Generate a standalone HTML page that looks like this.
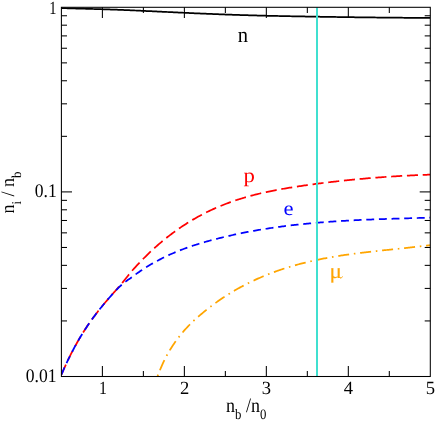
<!DOCTYPE html>
<html><head><meta charset="utf-8"><title>Particle fractions</title>
<style>
html,body{margin:0;padding:0;background:#fff;}
body{width:436px;height:421px;overflow:hidden;position:relative;font-family:"Liberation Serif",serif;}
</style></head>
<body>
<svg width="436" height="421" viewBox="0 0 436 421" style="position:absolute;left:0;top:0">
<defs><clipPath id="c"><rect x="61.4" y="7.3" width="368.90000000000003" height="369.2"/></clipPath></defs>
<g clip-path="url(#c)" fill="none">
<path d="M61.40,8.12 L62.63,8.15 L63.87,8.19 L65.10,8.22 L66.34,8.25 L67.57,8.28 L68.80,8.31 L70.04,8.34 L71.27,8.38 L72.50,8.41 L73.74,8.44 L74.97,8.47 L76.21,8.51 L77.44,8.54 L78.67,8.58 L79.91,8.61 L81.14,8.64 L82.37,8.68 L83.61,8.71 L84.84,8.75 L86.08,8.78 L87.31,8.82 L88.54,8.85 L89.78,8.89 L91.01,8.92 L92.24,8.96 L93.48,9.00 L94.71,9.03 L95.95,9.07 L97.18,9.10 L98.41,9.14 L99.65,9.18 L100.88,9.21 L102.11,9.25 L103.35,9.29 L104.58,9.32 L105.82,9.36 L107.05,9.40 L108.28,9.44 L109.52,9.48 L110.75,9.52 L111.98,9.56 L113.22,9.60 L114.45,9.64 L115.69,9.68 L116.92,9.72 L118.15,9.77 L119.39,9.81 L120.62,9.86 L121.86,9.91 L123.09,9.95 L124.32,10.01 L125.56,10.06 L126.79,10.11 L128.02,10.17 L129.26,10.23 L130.49,10.29 L131.73,10.34 L132.96,10.39 L134.19,10.45 L135.43,10.50 L136.66,10.56 L137.89,10.61 L139.13,10.67 L140.36,10.73 L141.60,10.78 L142.83,10.84 L144.06,10.90 L145.30,10.95 L146.53,11.01 L147.76,11.07 L149.00,11.12 L150.23,11.18 L151.47,11.24 L152.70,11.30 L153.93,11.36 L155.17,11.41 L156.40,11.47 L157.63,11.53 L158.87,11.59 L160.10,11.65 L161.34,11.71 L162.57,11.77 L163.80,11.82 L165.04,11.88 L166.27,11.94 L167.51,12.00 L168.74,12.06 L169.97,12.12 L171.21,12.18 L172.44,12.23 L173.67,12.29 L174.91,12.35 L176.14,12.41 L177.38,12.47 L178.61,12.52 L179.84,12.58 L181.08,12.64 L182.31,12.70 L183.54,12.75 L184.78,12.81 L186.01,12.87 L187.25,12.92 L188.48,12.98 L189.71,13.04 L190.95,13.09 L192.18,13.15 L193.41,13.20 L194.65,13.26 L195.88,13.31 L197.12,13.37 L198.35,13.42 L199.58,13.47 L200.82,13.53 L202.05,13.58 L203.28,13.63 L204.52,13.69 L205.75,13.74 L206.99,13.79 L208.22,13.84 L209.45,13.89 L210.69,13.94 L211.92,13.99 L213.15,14.04 L214.39,14.09 L215.62,14.14 L216.86,14.19 L218.09,14.23 L219.32,14.28 L220.56,14.33 L221.79,14.37 L223.03,14.42 L224.26,14.46 L225.49,14.51 L226.73,14.55 L227.96,14.60 L229.19,14.64 L230.43,14.68 L231.66,14.73 L232.90,14.77 L234.13,14.81 L235.36,14.85 L236.60,14.89 L237.83,14.93 L239.06,14.97 L240.30,15.01 L241.53,15.05 L242.77,15.09 L244.00,15.13 L245.23,15.16 L246.47,15.20 L247.70,15.24 L248.93,15.27 L250.17,15.31 L251.40,15.34 L252.64,15.38 L253.87,15.41 L255.10,15.44 L256.34,15.48 L257.57,15.51 L258.80,15.54 L260.04,15.57 L261.27,15.60 L262.51,15.64 L263.74,15.67 L264.97,15.70 L266.21,15.73 L267.44,15.76 L268.67,15.78 L269.91,15.81 L271.14,15.84 L272.38,15.87 L273.61,15.90 L274.84,15.92 L276.08,15.95 L277.31,15.98 L278.55,16.00 L279.78,16.03 L281.01,16.05 L282.25,16.08 L283.48,16.10 L284.71,16.13 L285.95,16.15 L287.18,16.18 L288.42,16.20 L289.65,16.22 L290.88,16.25 L292.12,16.27 L293.35,16.29 L294.58,16.32 L295.82,16.34 L297.05,16.36 L298.29,16.38 L299.52,16.41 L300.75,16.43 L301.99,16.45 L303.22,16.47 L304.45,16.49 L305.69,16.51 L306.92,16.54 L308.16,16.56 L309.39,16.58 L310.62,16.60 L311.86,16.62 L313.09,16.64 L314.32,16.66 L315.56,16.68 L316.79,16.70 L318.03,16.72 L319.26,16.74 L320.49,16.76 L321.73,16.78 L322.96,16.80 L324.19,16.82 L325.43,16.84 L326.66,16.86 L327.90,16.88 L329.13,16.89 L330.36,16.91 L331.60,16.93 L332.83,16.95 L334.07,16.97 L335.30,16.99 L336.53,17.00 L337.77,17.02 L339.00,17.04 L340.23,17.06 L341.47,17.08 L342.70,17.09 L343.94,17.11 L345.17,17.13 L346.40,17.14 L347.64,17.16 L348.87,17.18 L350.10,17.19 L351.34,17.21 L352.57,17.23 L353.81,17.24 L355.04,17.26 L356.27,17.27 L357.51,17.29 L358.74,17.30 L359.97,17.32 L361.21,17.33 L362.44,17.35 L363.68,17.36 L364.91,17.38 L366.14,17.39 L367.38,17.41 L368.61,17.42 L369.84,17.43 L371.08,17.45 L372.31,17.46 L373.55,17.47 L374.78,17.49 L376.01,17.50 L377.25,17.51 L378.48,17.53 L379.72,17.54 L380.95,17.55 L382.18,17.56 L383.42,17.58 L384.65,17.59 L385.88,17.60 L387.12,17.61 L388.35,17.62 L389.59,17.63 L390.82,17.65 L392.05,17.66 L393.29,17.67 L394.52,17.68 L395.75,17.69 L396.99,17.70 L398.22,17.71 L399.46,17.72 L400.69,17.73 L401.92,17.74 L403.16,17.75 L404.39,17.76 L405.62,17.77 L406.86,17.78 L408.09,17.78 L409.33,17.79 L410.56,17.80 L411.79,17.81 L413.03,17.82 L414.26,17.83 L415.49,17.83 L416.73,17.84 L417.96,17.85 L419.20,17.86 L420.43,17.86 L421.66,17.87 L422.90,17.88 L424.13,17.89 L425.36,17.89 L426.60,17.90 L427.83,17.90 L429.07,17.91 L430.30,17.92" stroke="#000" stroke-width="1.75"/>
<path d="M61.40,374.67 L62.63,371.80 L63.87,369.01 L65.10,366.27 L66.34,363.59 L67.57,360.98 L68.80,358.42 L70.04,355.92 L71.27,353.48 L72.50,351.08 L73.74,348.75 L74.97,346.46 L76.21,344.22 L77.44,342.03 L78.67,339.89 L79.91,337.79 L81.14,335.74 L82.37,333.73 L83.61,331.76 L84.84,329.83 L86.08,327.94 L87.31,326.08 L88.54,324.26 L89.78,322.48 L91.01,320.73 L92.24,319.01 L93.48,317.32 L94.71,315.66 L95.95,314.02 L97.18,312.41 L98.41,310.83 L99.65,309.27 L100.88,307.73 L102.11,306.21 L103.35,304.72 L104.58,303.23 L105.82,301.77 L107.05,300.32 L108.28,298.88 L109.52,297.46 L110.75,296.05 L111.98,294.65 L113.22,293.27 L114.45,291.89 L115.69,290.50 L116.92,289.09 L118.15,287.67 L119.39,286.24 L120.62,284.79 L121.86,283.32 L123.09,281.83 L124.32,280.32 L125.56,278.79 L126.79,277.24 L128.02,275.67 L129.26,274.07 L130.49,272.54 L131.73,271.15 L132.96,269.76 L134.19,268.39 L135.43,267.04 L136.66,265.70 L137.89,264.38 L139.13,263.07 L140.36,261.77 L141.60,260.50 L142.83,259.24 L144.06,257.99 L145.30,256.76 L146.53,255.54 L147.76,254.34 L149.00,253.15 L150.23,251.98 L151.47,250.82 L152.70,249.68 L153.93,248.55 L155.17,247.43 L156.40,246.33 L157.63,245.25 L158.87,244.17 L160.10,243.12 L161.34,242.07 L162.57,241.04 L163.80,240.02 L165.04,239.02 L166.27,238.03 L167.51,237.05 L168.74,236.08 L169.97,235.13 L171.21,234.19 L172.44,233.27 L173.67,232.35 L174.91,231.45 L176.14,230.56 L177.38,229.69 L178.61,228.82 L179.84,227.97 L181.08,227.13 L182.31,226.30 L183.54,225.48 L184.78,224.68 L186.01,223.89 L187.25,223.11 L188.48,222.34 L189.71,221.58 L190.95,220.83 L192.18,220.09 L193.41,219.37 L194.65,218.65 L195.88,217.95 L197.12,217.25 L198.35,216.57 L199.58,215.90 L200.82,215.24 L202.05,214.58 L203.28,213.94 L204.52,213.31 L205.75,212.69 L206.99,212.07 L208.22,211.47 L209.45,210.88 L210.69,210.29 L211.92,209.72 L213.15,209.16 L214.39,208.60 L215.62,208.05 L216.86,207.51 L218.09,206.99 L219.32,206.47 L220.56,205.95 L221.79,205.45 L223.03,204.95 L224.26,204.47 L225.49,203.99 L226.73,203.52 L227.96,203.06 L229.19,202.60 L230.43,202.16 L231.66,201.72 L232.90,201.28 L234.13,200.86 L235.36,200.44 L236.60,200.03 L237.83,199.63 L239.06,199.24 L240.30,198.85 L241.53,198.46 L242.77,198.09 L244.00,197.72 L245.23,197.36 L246.47,197.00 L247.70,196.65 L248.93,196.31 L250.17,195.97 L251.40,195.64 L252.64,195.32 L253.87,195.00 L255.10,194.68 L256.34,194.37 L257.57,194.07 L258.80,193.77 L260.04,193.48 L261.27,193.19 L262.51,192.91 L263.74,192.63 L264.97,192.36 L266.21,192.09 L267.44,191.82 L268.67,191.56 L269.91,191.31 L271.14,191.06 L272.38,190.81 L273.61,190.57 L274.84,190.33 L276.08,190.09 L277.31,189.86 L278.55,189.63 L279.78,189.41 L281.01,189.19 L282.25,188.97 L283.48,188.76 L284.71,188.54 L285.95,188.34 L287.18,188.13 L288.42,187.93 L289.65,187.73 L290.88,187.53 L292.12,187.33 L293.35,187.14 L294.58,186.95 L295.82,186.76 L297.05,186.57 L298.29,186.39 L299.52,186.20 L300.75,186.02 L301.99,185.84 L303.22,185.66 L304.45,185.48 L305.69,185.31 L306.92,185.13 L308.16,184.96 L309.39,184.79 L310.62,184.62 L311.86,184.45 L313.09,184.29 L314.32,184.12 L315.56,183.96 L316.79,183.79 L318.03,183.63 L319.26,183.47 L320.49,183.31 L321.73,183.16 L322.96,183.00 L324.19,182.85 L325.43,182.70 L326.66,182.54 L327.90,182.39 L329.13,182.25 L330.36,182.10 L331.60,181.95 L332.83,181.81 L334.07,181.67 L335.30,181.53 L336.53,181.39 L337.77,181.25 L339.00,181.11 L340.23,180.98 L341.47,180.84 L342.70,180.71 L343.94,180.58 L345.17,180.45 L346.40,180.32 L347.64,180.19 L348.87,180.07 L350.10,179.94 L351.34,179.82 L352.57,179.70 L353.81,179.57 L355.04,179.46 L356.27,179.34 L357.51,179.22 L358.74,179.11 L359.97,178.99 L361.21,178.88 L362.44,178.77 L363.68,178.66 L364.91,178.55 L366.14,178.44 L367.38,178.34 L368.61,178.23 L369.84,178.13 L371.08,178.03 L372.31,177.93 L373.55,177.83 L374.78,177.73 L376.01,177.64 L377.25,177.54 L378.48,177.45 L379.72,177.35 L380.95,177.26 L382.18,177.17 L383.42,177.08 L384.65,177.00 L385.88,176.91 L387.12,176.82 L388.35,176.74 L389.59,176.66 L390.82,176.58 L392.05,176.50 L393.29,176.42 L394.52,176.34 L395.75,176.27 L396.99,176.19 L398.22,176.12 L399.46,176.05 L400.69,175.97 L401.92,175.90 L403.16,175.84 L404.39,175.77 L405.62,175.70 L406.86,175.64 L408.09,175.57 L409.33,175.51 L410.56,175.45 L411.79,175.39 L413.03,175.33 L414.26,175.27 L415.49,175.22 L416.73,175.16 L417.96,175.11 L419.20,175.06 L420.43,175.00 L421.66,174.95 L422.90,174.90 L424.13,174.86 L425.36,174.81 L426.60,174.76 L427.83,174.72 L429.07,174.68 L430.30,174.63" stroke="#ff0000" stroke-width="1.75" stroke-dasharray="11.06 4.74"/>
<path d="M61.40,374.67 L62.63,371.80 L63.87,369.01 L65.10,366.27 L66.34,363.59 L67.57,360.98 L68.80,358.42 L70.04,355.92 L71.27,353.48 L72.50,351.08 L73.74,348.75 L74.97,346.46 L76.21,344.22 L77.44,342.03 L78.67,339.89 L79.91,337.79 L81.14,335.74 L82.37,333.73 L83.61,331.76 L84.84,329.83 L86.08,327.94 L87.31,326.08 L88.54,324.26 L89.78,322.48 L91.01,320.73 L92.24,319.01 L93.48,317.32 L94.71,315.66 L95.95,314.02 L97.18,312.41 L98.41,310.83 L99.65,309.27 L100.88,307.73 L102.11,306.21 L103.35,304.72 L104.58,303.23 L105.82,301.77 L107.05,300.32 L108.28,298.88 L109.52,297.46 L110.75,296.05 L111.98,294.65 L113.22,293.27 L114.45,291.91 L115.69,290.59 L116.92,289.32 L118.15,288.08 L119.39,286.89 L120.62,285.74 L121.86,284.64 L123.09,283.58 L124.32,282.57 L125.56,281.62 L126.79,280.71 L128.02,279.85 L129.26,279.05 L130.49,278.21 L131.73,277.26 L132.96,276.34 L134.19,275.42 L135.43,274.52 L136.66,273.64 L137.89,272.77 L139.13,271.92 L140.36,271.08 L141.60,270.25 L142.83,269.43 L144.06,268.63 L145.30,267.84 L146.53,267.07 L147.76,266.31 L149.00,265.56 L150.23,264.82 L151.47,264.09 L152.70,263.38 L153.93,262.68 L155.17,261.99 L156.40,261.31 L157.63,260.65 L158.87,259.99 L160.10,259.35 L161.34,258.71 L162.57,258.09 L163.80,257.48 L165.04,256.88 L166.27,256.29 L167.51,255.71 L168.74,255.14 L169.97,254.57 L171.21,254.02 L172.44,253.48 L173.67,252.95 L174.91,252.42 L176.14,251.91 L177.38,251.40 L178.61,250.90 L179.84,250.41 L181.08,249.93 L182.31,249.46 L183.54,248.99 L184.78,248.54 L186.01,248.09 L187.25,247.64 L188.48,247.21 L189.71,246.78 L190.95,246.36 L192.18,245.94 L193.41,245.53 L194.65,245.13 L195.88,244.74 L197.12,244.35 L198.35,243.96 L199.58,243.58 L200.82,243.21 L202.05,242.84 L203.28,242.48 L204.52,242.13 L205.75,241.77 L206.99,241.43 L208.22,241.08 L209.45,240.74 L210.69,240.41 L211.92,240.08 L213.15,239.75 L214.39,239.43 L215.62,239.11 L216.86,238.79 L218.09,238.48 L219.32,238.17 L220.56,237.87 L221.79,237.56 L223.03,237.26 L224.26,236.97 L225.49,236.68 L226.73,236.39 L227.96,236.10 L229.19,235.82 L230.43,235.54 L231.66,235.26 L232.90,234.99 L234.13,234.72 L235.36,234.46 L236.60,234.19 L237.83,233.93 L239.06,233.67 L240.30,233.42 L241.53,233.17 L242.77,232.92 L244.00,232.68 L245.23,232.43 L246.47,232.19 L247.70,231.96 L248.93,231.72 L250.17,231.49 L251.40,231.27 L252.64,231.04 L253.87,230.82 L255.10,230.60 L256.34,230.39 L257.57,230.17 L258.80,229.96 L260.04,229.75 L261.27,229.55 L262.51,229.35 L263.74,229.15 L264.97,228.95 L266.21,228.75 L267.44,228.56 L268.67,228.37 L269.91,228.18 L271.14,228.00 L272.38,227.82 L273.61,227.64 L274.84,227.46 L276.08,227.29 L277.31,227.11 L278.55,226.95 L279.78,226.78 L281.01,226.61 L282.25,226.45 L283.48,226.29 L284.71,226.13 L285.95,225.98 L287.18,225.82 L288.42,225.67 L289.65,225.52 L290.88,225.38 L292.12,225.23 L293.35,225.09 L294.58,224.95 L295.82,224.81 L297.05,224.67 L298.29,224.54 L299.52,224.41 L300.75,224.28 L301.99,224.15 L303.22,224.02 L304.45,223.90 L305.69,223.78 L306.92,223.66 L308.16,223.54 L309.39,223.42 L310.62,223.31 L311.86,223.19 L313.09,223.08 L314.32,222.97 L315.56,222.87 L316.79,222.76 L318.03,222.66 L319.26,222.55 L320.49,222.45 L321.73,222.36 L322.96,222.26 L324.19,222.16 L325.43,222.07 L326.66,221.98 L327.90,221.88 L329.13,221.79 L330.36,221.71 L331.60,221.62 L332.83,221.54 L334.07,221.45 L335.30,221.37 L336.53,221.29 L337.77,221.21 L339.00,221.13 L340.23,221.06 L341.47,220.98 L342.70,220.91 L343.94,220.83 L345.17,220.76 L346.40,220.69 L347.64,220.62 L348.87,220.55 L350.10,220.49 L351.34,220.42 L352.57,220.36 L353.81,220.29 L355.04,220.23 L356.27,220.17 L357.51,220.11 L358.74,220.05 L359.97,219.99 L361.21,219.94 L362.44,219.88 L363.68,219.83 L364.91,219.77 L366.14,219.72 L367.38,219.67 L368.61,219.61 L369.84,219.56 L371.08,219.51 L372.31,219.46 L373.55,219.41 L374.78,219.37 L376.01,219.32 L377.25,219.27 L378.48,219.23 L379.72,219.18 L380.95,219.14 L382.18,219.10 L383.42,219.05 L384.65,219.01 L385.88,218.97 L387.12,218.93 L388.35,218.88 L389.59,218.84 L390.82,218.80 L392.05,218.76 L393.29,218.73 L394.52,218.69 L395.75,218.65 L396.99,218.61 L398.22,218.57 L399.46,218.54 L400.69,218.50 L401.92,218.46 L403.16,218.42 L404.39,218.39 L405.62,218.35 L406.86,218.32 L408.09,218.28 L409.33,218.25 L410.56,218.21 L411.79,218.17 L413.03,218.14 L414.26,218.10 L415.49,218.07 L416.73,218.03 L417.96,218.00 L419.20,217.96 L420.43,217.93 L421.66,217.89 L422.90,217.86 L424.13,217.82 L425.36,217.79 L426.60,217.75 L427.83,217.71 L429.07,217.68 L430.30,217.64" stroke="#0000ff" stroke-width="1.75" stroke-dasharray="7.90 4.74"/>
<path d="M157.60,376.12 L158.70,373.25 L159.79,370.51 L160.89,367.88 L161.98,365.36 L163.08,362.95 L164.17,360.65 L165.27,358.44 L166.36,356.33 L167.46,354.30 L168.55,352.35 L169.65,350.48 L170.74,348.68 L171.84,346.94 L172.93,345.27 L174.03,343.65 L175.12,342.08 L176.22,340.55 L177.31,339.07 L178.41,337.62 L179.50,336.21 L180.60,334.84 L181.69,333.50 L182.79,332.20 L183.88,330.93 L184.98,329.68 L186.07,328.47 L187.17,327.29 L188.27,326.14 L189.36,325.01 L190.46,323.90 L191.55,322.82 L192.65,321.76 L193.74,320.73 L194.84,319.71 L195.93,318.71 L197.03,317.73 L198.12,316.77 L199.22,315.82 L200.31,314.88 L201.41,313.96 L202.50,313.05 L203.60,312.15 L204.69,311.25 L205.79,310.37 L206.88,309.50 L207.98,308.64 L209.07,307.79 L210.17,306.95 L211.26,306.12 L212.36,305.29 L213.45,304.48 L214.55,303.68 L215.64,302.88 L216.74,302.10 L217.83,301.32 L218.93,300.56 L220.03,299.80 L221.12,299.05 L222.22,298.31 L223.31,297.58 L224.41,296.86 L225.50,296.15 L226.60,295.45 L227.69,294.75 L228.79,294.06 L229.88,293.39 L230.98,292.71 L232.07,292.05 L233.17,291.40 L234.26,290.75 L235.36,290.11 L236.45,289.48 L237.55,288.86 L238.64,288.25 L239.74,287.64 L240.83,287.04 L241.93,286.45 L243.02,285.87 L244.12,285.29 L245.21,284.72 L246.31,284.16 L247.40,283.60 L248.50,283.05 L249.60,282.51 L250.69,281.98 L251.79,281.45 L252.88,280.93 L253.98,280.42 L255.07,279.91 L256.17,279.41 L257.26,278.91 L258.36,278.42 L259.45,277.94 L260.55,277.47 L261.64,277.00 L262.74,276.53 L263.83,276.07 L264.93,275.62 L266.02,275.18 L267.12,274.74 L268.21,274.30 L269.31,273.87 L270.40,273.45 L271.50,273.03 L272.59,272.62 L273.69,272.21 L274.78,271.81 L275.88,271.41 L276.97,271.02 L278.07,270.63 L279.17,270.25 L280.26,269.88 L281.36,269.51 L282.45,269.14 L283.55,268.78 L284.64,268.43 L285.74,268.07 L286.83,267.73 L287.93,267.39 L289.02,267.05 L290.12,266.72 L291.21,266.39 L292.31,266.07 L293.40,265.75 L294.50,265.44 L295.59,265.13 L296.69,264.82 L297.78,264.52 L298.88,264.23 L299.97,263.93 L301.07,263.65 L302.16,263.36 L303.26,263.08 L304.35,262.81 L305.45,262.54 L306.54,262.27 L307.64,262.00 L308.73,261.74 L309.83,261.49 L310.93,261.24 L312.02,260.99 L313.12,260.74 L314.21,260.50 L315.31,260.26 L316.40,260.03 L317.50,259.80 L318.59,259.57 L319.69,259.34 L320.78,259.12 L321.88,258.91 L322.97,258.69 L324.07,258.48 L325.16,258.27 L326.26,258.07 L327.35,257.86 L328.45,257.66 L329.54,257.47 L330.64,257.27 L331.73,257.08 L332.83,256.89 L333.92,256.71 L335.02,256.53 L336.11,256.35 L337.21,256.17 L338.30,255.99 L339.40,255.82 L340.50,255.65 L341.59,255.48 L342.69,255.32 L343.78,255.15 L344.88,254.99 L345.97,254.83 L347.07,254.67 L348.16,254.52 L349.26,254.37 L350.35,254.22 L351.45,254.07 L352.54,253.92 L353.64,253.77 L354.73,253.63 L355.83,253.49 L356.92,253.35 L358.02,253.21 L359.11,253.07 L360.21,252.94 L361.30,252.80 L362.40,252.67 L363.49,252.54 L364.59,252.41 L365.68,252.28 L366.78,252.15 L367.87,252.02 L368.97,251.90 L370.07,251.77 L371.16,251.65 L372.26,251.53 L373.35,251.41 L374.45,251.29 L375.54,251.17 L376.64,251.05 L377.73,250.93 L378.83,250.81 L379.92,250.69 L381.02,250.58 L382.11,250.46 L383.21,250.35 L384.30,250.23 L385.40,250.12 L386.49,250.00 L387.59,249.89 L388.68,249.77 L389.78,249.66 L390.87,249.55 L391.97,249.43 L393.06,249.32 L394.16,249.20 L395.25,249.09 L396.35,248.98 L397.44,248.86 L398.54,248.75 L399.63,248.63 L400.73,248.52 L401.83,248.40 L402.92,248.29 L404.02,248.17 L405.11,248.06 L406.21,247.94 L407.30,247.82 L408.40,247.70 L409.49,247.58 L410.59,247.46 L411.68,247.34 L412.78,247.22 L413.87,247.10 L414.97,246.97 L416.06,246.85 L417.16,246.72 L418.25,246.60 L419.35,246.47 L420.44,246.34 L421.54,246.21 L422.63,246.08 L423.73,245.95 L424.82,245.81 L425.92,245.67 L427.01,245.54 L428.11,245.40 L429.20,245.26 L430.30,245.12" stroke="#ffa500" stroke-width="1.75" stroke-dasharray="1.58 4.74 11.06 4.74"/>
<line x1="317.0" y1="7.3" x2="317.0" y2="376.5" stroke="#40e0d0" stroke-width="2.0"/>
</g>
<g stroke="#000" stroke-width="1.05" fill="none">
<rect x="61.4" y="7.3" width="368.90000000000003" height="369.2"/>
<line x1="102.39" y1="376.5" x2="102.39" y2="365.9"/>
<line x1="102.39" y1="7.3" x2="102.39" y2="17.9"/>
<line x1="143.38" y1="376.5" x2="143.38" y2="370.9"/>
<line x1="143.38" y1="7.3" x2="143.38" y2="12.899999999999999"/>
<line x1="184.37" y1="376.5" x2="184.37" y2="365.9"/>
<line x1="184.37" y1="7.3" x2="184.37" y2="17.9"/>
<line x1="225.36" y1="376.5" x2="225.36" y2="370.9"/>
<line x1="225.36" y1="7.3" x2="225.36" y2="12.899999999999999"/>
<line x1="266.34" y1="376.5" x2="266.34" y2="365.9"/>
<line x1="266.34" y1="7.3" x2="266.34" y2="17.9"/>
<line x1="307.33" y1="376.5" x2="307.33" y2="370.9"/>
<line x1="307.33" y1="7.3" x2="307.33" y2="12.899999999999999"/>
<line x1="348.32" y1="376.5" x2="348.32" y2="365.9"/>
<line x1="348.32" y1="7.3" x2="348.32" y2="17.9"/>
<line x1="389.31" y1="376.5" x2="389.31" y2="370.9"/>
<line x1="389.31" y1="7.3" x2="389.31" y2="12.899999999999999"/>
<line x1="61.4" y1="191.90" x2="72.0" y2="191.90"/>
<line x1="430.3" y1="191.90" x2="419.7" y2="191.90"/>
<line x1="61.4" y1="136.33" x2="67.0" y2="136.33"/>
<line x1="430.3" y1="136.33" x2="424.7" y2="136.33"/>
<line x1="61.4" y1="103.82" x2="67.0" y2="103.82"/>
<line x1="430.3" y1="103.82" x2="424.7" y2="103.82"/>
<line x1="61.4" y1="80.76" x2="67.0" y2="80.76"/>
<line x1="430.3" y1="80.76" x2="424.7" y2="80.76"/>
<line x1="61.4" y1="62.87" x2="67.0" y2="62.87"/>
<line x1="430.3" y1="62.87" x2="424.7" y2="62.87"/>
<line x1="61.4" y1="48.25" x2="67.0" y2="48.25"/>
<line x1="430.3" y1="48.25" x2="424.7" y2="48.25"/>
<line x1="61.4" y1="35.89" x2="67.0" y2="35.89"/>
<line x1="430.3" y1="35.89" x2="424.7" y2="35.89"/>
<line x1="61.4" y1="25.19" x2="67.0" y2="25.19"/>
<line x1="430.3" y1="25.19" x2="424.7" y2="25.19"/>
<line x1="61.4" y1="15.75" x2="67.0" y2="15.75"/>
<line x1="430.3" y1="15.75" x2="424.7" y2="15.75"/>
<line x1="61.4" y1="320.93" x2="67.0" y2="320.93"/>
<line x1="430.3" y1="320.93" x2="424.7" y2="320.93"/>
<line x1="61.4" y1="288.42" x2="67.0" y2="288.42"/>
<line x1="430.3" y1="288.42" x2="424.7" y2="288.42"/>
<line x1="61.4" y1="265.36" x2="67.0" y2="265.36"/>
<line x1="430.3" y1="265.36" x2="424.7" y2="265.36"/>
<line x1="61.4" y1="247.47" x2="67.0" y2="247.47"/>
<line x1="430.3" y1="247.47" x2="424.7" y2="247.47"/>
<line x1="61.4" y1="232.85" x2="67.0" y2="232.85"/>
<line x1="430.3" y1="232.85" x2="424.7" y2="232.85"/>
<line x1="61.4" y1="220.49" x2="67.0" y2="220.49"/>
<line x1="430.3" y1="220.49" x2="424.7" y2="220.49"/>
<line x1="61.4" y1="209.79" x2="67.0" y2="209.79"/>
<line x1="430.3" y1="209.79" x2="424.7" y2="209.79"/>
<line x1="61.4" y1="200.35" x2="67.0" y2="200.35"/>
<line x1="430.3" y1="200.35" x2="424.7" y2="200.35"/>
</g>
<g font-family="'Liberation Serif', serif" style="text-rendering:geometricPrecision" opacity="0.999">
<text transform="translate(102.9,393.8) scale(0.85,1.0)" font-size="18.6" text-anchor="middle" fill="#000">1</text>
<text transform="translate(184.6,393.8) scale(1,1.0)" font-size="18.6" text-anchor="middle" fill="#000">2</text>
<text transform="translate(266.5,393.8) scale(1,1.0)" font-size="18.6" text-anchor="middle" fill="#000">3</text>
<text transform="translate(348.5,393.8) scale(1,1.0)" font-size="18.6" text-anchor="middle" fill="#000">4</text>
<text transform="translate(430.5,393.8) scale(1,1.0)" font-size="18.6" text-anchor="middle" fill="#000">5</text>
<text transform="translate(56.4,13.6) scale(0.82,1.06)" font-size="17.6" text-anchor="end" fill="#000">1</text>
<text transform="translate(56.8,197.1) scale(1,1.1)" font-size="17.6" text-anchor="end" fill="#000">0.1</text>
<text transform="translate(56.5,381.8) scale(1,1.1)" font-size="17.6" text-anchor="end" fill="#000">0.01</text>
<text transform="translate(226,412.4) scale(1,1.13)" font-size="18">n<tspan font-size="12.8" dy="5.8">b</tspan><tspan dy="-5.8"> /n</tspan><tspan font-size="12.8" dy="5.8">0</tspan></text>
<text transform="translate(13.6,213.6) rotate(-90) scale(1,1.06)" font-size="18">n<tspan font-size="12.8" dy="6.9">i</tspan><tspan dy="-6.9"> / n</tspan><tspan font-size="12.8" dy="6.9">b</tspan></text>
<text transform="translate(242.9,42) scale(1.03,1.1)" font-size="20" text-anchor="middle" fill="#000">n</text>
<text transform="translate(249.1,182.1) scale(1.14,1.015)" font-size="20" text-anchor="middle" fill="#ff0000">p</text>
<text transform="translate(288.6,215.0) scale(1.13,1.0)" font-size="20" text-anchor="middle" fill="#0000ff">e</text>
<text transform="translate(335.6,277.8) scale(1.16,1.07)" font-size="20" text-anchor="middle" fill="#ffa500" stroke="#ffa500" stroke-width="0.12">μ</text>
<path d="M340.2,278.3 Q341.8,278.2 342.6,276.4" fill="none" stroke="#ffa500" stroke-width="0.9"/>
</g>
</svg>
</body></html>
